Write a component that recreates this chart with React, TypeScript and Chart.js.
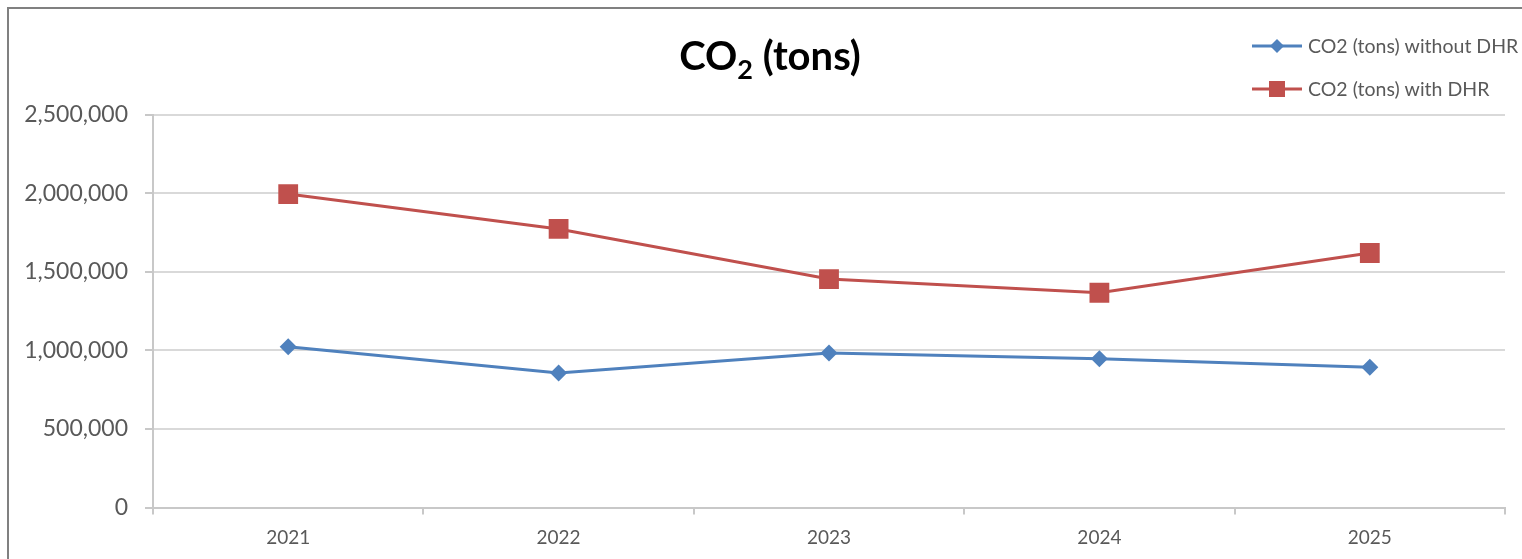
import React, { useEffect, useRef } from "react";
import { Chart, registerables } from "chart.js";

Chart.register(...registerables);

const categories = ["2021", "2022", "2023", "2024", "2025"];
const withoutDHR = [1023000, 856000, 983000, 947000, 892000];
const withDHR = [1994000, 1772000, 1453000, 1366000, 1619000];
const seriesLabels = ["CO2 (tons) without DHR", "CO2 (tons) with DHR"];
const yMin = 0;
const yMax = 2500000;
const yStep = 500000;

const FONT = "Lato, 'Open Sans', sans-serif";
const BLUE = "#4f81bd";
const RED = "#c0504d";

const overlayPlugin = {
  id: "overlay",
  afterDraw(chart: any) {
    const ctx = chart.ctx as CanvasRenderingContext2D;
    ctx.save();
    // Title: CO₂ (tons)
    ctx.fillStyle = "#000";
    ctx.textBaseline = "alphabetic";
    ctx.textAlign = "left";
    const big = `bold 40px ${FONT}`;
    const small = `bold 27px ${FONT}`;
    ctx.font = big;
    const wCO = ctx.measureText("CO").width;
    const wRest = ctx.measureText(" (tons)").width;
    ctx.font = small;
    const w2 = ctx.measureText("2").width;
    const total = wCO + w2 + wRest;
    let x = 770 - total / 2;
    const base = 70;
    ctx.font = big;
    ctx.fillText("CO", x, base);
    x += wCO;
    ctx.font = small;
    ctx.fillText("2", x, base + 9);
    x += w2;
    ctx.font = big;
    ctx.fillText(" (tons)", x, base);

    // Legend
    const rows = [46, 89];
    chart.data.datasets.forEach((ds: any, i: number) => {
      const y = rows[i];
      ctx.strokeStyle = ds.borderColor;
      ctx.lineWidth = 3;
      ctx.beginPath();
      ctx.moveTo(1252, y);
      ctx.lineTo(1302, y);
      ctx.stroke();
      ctx.fillStyle = ds.backgroundColor;
      const cx = 1277;
      if (ds.pointStyle === "rectRot") {
        const r = 7;
        ctx.beginPath();
        ctx.moveTo(cx - r, y);
        ctx.lineTo(cx, y - r);
        ctx.lineTo(cx + r, y);
        ctx.lineTo(cx, y + r);
        ctx.closePath();
        ctx.fill();
      } else {
        const s = 8;
        ctx.fillRect(cx - s, y - s, 2 * s, 2 * s);
      }
      ctx.fillStyle = "#595959";
      ctx.font = `19.5px ${FONT}`;
      ctx.textBaseline = "middle";
      ctx.textAlign = "left";
      ctx.fillText(ds.label, 1308, y + 1);
    });
    ctx.restore();
  },
};

export default function App() {
  const ref = useRef<HTMLCanvasElement | null>(null);

  useEffect(() => {
    if (!ref.current) return;
    const chart = new Chart(ref.current, {
      type: "line",
      data: {
        labels: categories,
        datasets: [
          {
            label: seriesLabels[0],
            data: withoutDHR,
            borderColor: BLUE,
            backgroundColor: BLUE,
            borderWidth: 3,
            pointStyle: "rectRot",
            pointRadius: 8.5,
            pointBorderWidth: 0,
            tension: 0,
          },
          {
            label: seriesLabels[1],
            data: withDHR,
            borderColor: RED,
            backgroundColor: RED,
            borderWidth: 3,
            pointStyle: "rect",
            pointRadius: 14,
            pointBorderWidth: 0,
            tension: 0,
          },
        ],
      },
      options: {
        animation: false,
        responsive: false,
        devicePixelRatio: 1,
        layout: { padding: { left: 0, right: 17, top: 114.5, bottom: 0 } },
        plugins: {
          legend: { display: false },
          title: { display: false },
          tooltip: { enabled: false },
        },
        scales: {
          x: {
            offset: true,
            afterFit: (s: any) => {
              s.height = 51.5;
            },
            grid: {
              display: true,
              offset: true,
              drawOnChartArea: false,
              tickLength: 7,
              color: "#c8c8c8",
              lineWidth: 2,
            },
            border: { display: true, color: "#c8c8c8", width: 2 },
            ticks: {
              color: "#595959",
              font: { family: FONT, size: 19 },
              padding: 12,
              maxRotation: 0,
            },
          },
          y: {
            min: yMin,
            max: yMax,
            afterFit: (s: any) => {
              s.width = 153;
            },
            grid: {
              color: "#d9d9d9",
              lineWidth: 2,
              tickLength: 8,
              tickColor: "#c8c8c8",
            },
            border: { display: true, color: "#c8c8c8", width: 2 },
            ticks: {
              stepSize: yStep,
              color: "#595959",
              font: { family: FONT, size: 23 },
              padding: 17,
              callback: (v: any) => Number(v).toLocaleString("en-US"),
            },
          },
        },
      },
      plugins: [overlayPlugin],
    });
    return () => chart.destroy();
  }, []);

  return (
    <div
      style={{
        position: "fixed",
        left: 0,
        top: 0,
        width: 1522,
        height: 559,
        overflow: "hidden",
        background: "#fff",
      }}
    >
      <canvas ref={ref} width={1522} height={559} style={{ position: "absolute", left: 0, top: 0 }} />
      <div
        style={{
          position: "absolute",
          left: 7,
          top: 7,
          width: 1600,
          height: 700,
          borderLeft: "2px solid #808080",
          borderTop: "2px solid #808080",
          pointerEvents: "none",
        }}
      />
    </div>
  );
}
